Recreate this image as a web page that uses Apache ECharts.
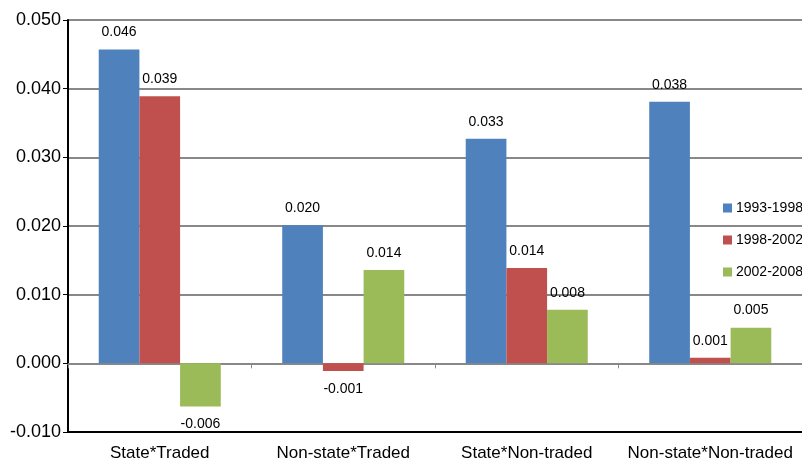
<!DOCTYPE html>
<html>
<head>
<meta charset="utf-8">
<script src="https://cdn.jsdelivr.net/npm/echarts@6/dist/echarts.min.js"></script>
<style>
  html, body { margin: 0; padding: 0; background: #fff; }
  #chart { width: 802px; height: 462px; }
</style>
</head>
<body>
<div id="chart"></div>
<script>
var categories = ["State*Traded", "Non-state*Traded", "State*Non-traded", "Non-state*Non-traded"];
var seriesNames = ["1993-1998", "1998-2002", "2002-2008"];
var colors = ["#4F81BD", "#C0504D", "#9BBB59"];
var values_9398 = [0.0457, 0.0201, 0.0327, 0.0381];
var values_9802 = [0.0389, -0.0011, 0.0139, 0.0008];
var values_0208 = [-0.0063, 0.0136, 0.0078, 0.0052];
var allValues = [values_9398, values_9802, values_0208];

var font = "Liberation Sans";

function makeSeries(idx) {
    return {
        name: seriesNames[idx],
        type: 'bar',
        xAxisIndex: 0,
        barGap: '0%',
        barCategoryGap: '33.5%',
        itemStyle: { color: colors[idx] },
        label: {
            show: true,
            position: 'top',
            distance: 10,
            color: '#000',
            fontFamily: font,
            fontSize: 14,
            formatter: function(p) { return p.value.toFixed(3); }
        },
        data: allValues[idx].map(function(v) {
            // negative bars get their label underneath
            if (v < 0) {
                return { value: v, label: { position: 'bottom', distance: 11 } };
            }
            return v;
        })
    };
}

var chart = echarts.init(document.getElementById("chart"));
chart.setOption({
    animation: false,
    grid: { left: 68, top: 20, width: 740, height: 413 },
    legend: {
        orient: 'vertical',
        left: 718,
        top: 196,
        itemWidth: 9,
        itemHeight: 9,
        itemGap: 18,
        icon: 'rect',
        textStyle: { fontFamily: font, fontSize: 14, color: '#000', padding: [0, 0, 0, -1] },
        data: seriesNames
    },
    xAxis: [
        {
            type: 'category',
            data: categories,
            axisLine: { onZero: true, lineStyle: { color: '#888', width: 2 } },
            axisTick: { show: true, length: 5, lineStyle: { color: '#888' } },
            axisLabel: { show: false }
        },
        {
            type: 'category',
            data: categories,
            position: 'bottom',
            axisLine: { onZero: false, lineStyle: { color: '#000', width: 2 } },
            axisTick: { show: false },
            axisLabel: { interval: 0, fontFamily: font, fontSize: 17, color: '#000', margin: 13 }
        }
    ],
    yAxis: {
        type: 'value',
        min: -0.01,
        max: 0.05,
        interval: 0.01,
        axisLine: { show: true, lineStyle: { color: '#000', width: 2 } },
        axisTick: { show: true, length: 5, lineStyle: { color: '#000' } },
        axisLabel: {
            fontFamily: font,
            fontSize: 18,
            color: '#000',
            margin: 7,
            formatter: function(v) { return v.toFixed(3); }
        },
        splitLine: { lineStyle: { color: '#888', width: 2 } }
    },
    series: [makeSeries(0), makeSeries(1), makeSeries(2)]
});
</script>
</body>
</html>
